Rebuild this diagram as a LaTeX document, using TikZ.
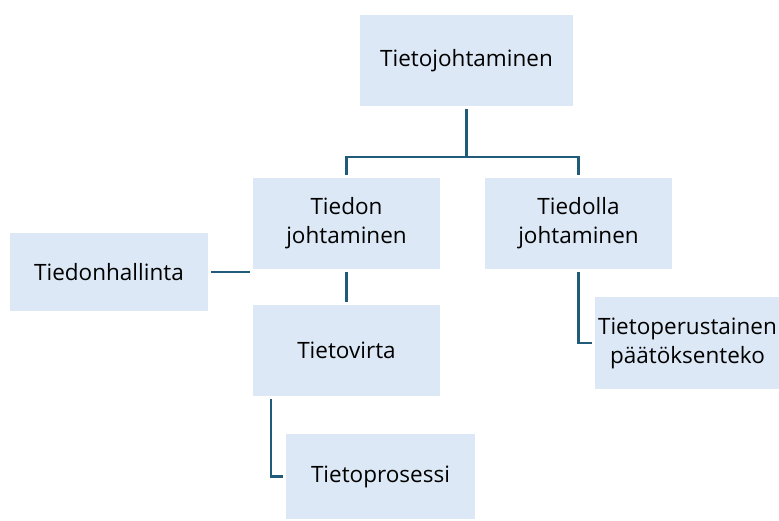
\documentclass[tikz,border=0pt]{standalone}
\usepackage{fontspec}
\setmainfont{Open Sans}
\usepackage{tikz}
\usepackage{xcolor}
\usetikzlibrary{positioning}
\definecolor{boxblue}{RGB}{220,232,245}
\definecolor{linkblue}{RGB}{33,91,122}

\begin{document}
\begin{tikzpicture}[x=1pt, y=-1pt,
    box/.style={fill=boxblue, draw=none, outer sep=3pt, align=center,
        font=\fontsize{22.5}{29}\selectfont},
    link/.style={draw=linkblue, line width=2.2pt}]
    \useasboundingbox (0,0) rectangle (779,520);

    % top level
    \node[box, minimum width=213pt, minimum height=91pt] (top) at (466.5,60.5) {Tietojohtaminen};

    % second level
    \node[box, minimum width=187pt, minimum height=91pt] (tiedon) at (346.5,223.5) {Tiedon\\johtaminen};
    \node[box, minimum width=187pt, minimum height=91pt] (tiedolla) at (578.5,223.5) {Tiedolla\\johtaminen};
    \node[box, minimum width=198pt, minimum height=78pt] (hallinta) at (109,272) {Tiedonhallinta};

    % lower boxes
    \node[box, minimum width=187pt, minimum height=91pt] (virta) at (346.5,350.5) {Tietovirta};
    \node[box, minimum width=183pt, minimum height=92pt] (paatos) at (687.5,343) {Tietoperustainen\\päätöksenteko};
    \node[box, minimum width=189pt, minimum height=85pt] (prosessi) at (380.5,476.5) {Tietoprosessi};

    % connectors
    \draw[link] (top.south) -- ++(0,48) coordinate (bus);
    \draw[link] (tiedon.north) |- (bus) -| (tiedolla.north);
    \draw[link] (hallinta.east) -- (tiedon.south west);
    \draw[link] (tiedon.south) -- (virta.north);
    \draw[link] ([xshift=21pt]virta.south west) |- (prosessi.west);
    \draw[link] (tiedolla.south) |- (paatos.west);
\end{tikzpicture}
\end{document}
